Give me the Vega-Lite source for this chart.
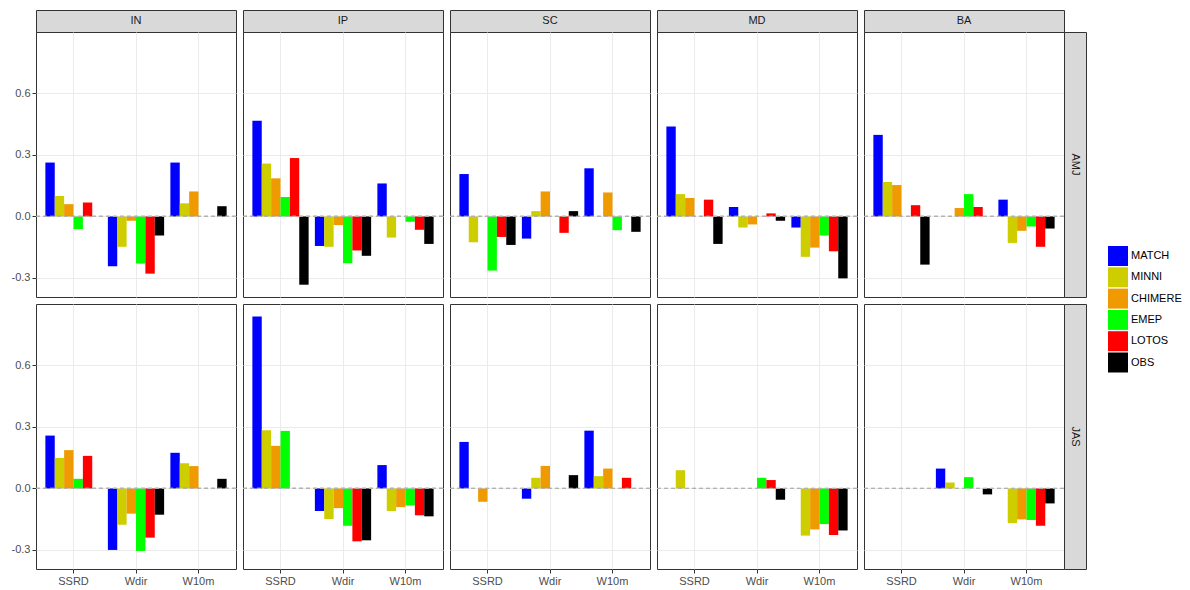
{
"$schema": "https://vega.github.io/schema/vega-lite/v6.json",
"padding": {"left": 10, "top": 9, "right": 0, "bottom": 0},
"bounds": "flush",
"align": "each",
"spacing": 0,
"columns": 10,
"datasets": {
"d": [
{"period":"AMJ","site":"IN","var":"SSRD","model":"MATCH","value":0.263},
{"period":"AMJ","site":"IN","var":"SSRD","model":"MINNI","value":0.10},
{"period":"AMJ","site":"IN","var":"SSRD","model":"CHIMERE","value":0.06},
{"period":"AMJ","site":"IN","var":"SSRD","model":"EMEP","value":-0.062},
{"period":"AMJ","site":"IN","var":"SSRD","model":"LOTOS","value":0.068},
{"period":"AMJ","site":"IN","var":"Wdir","model":"MATCH","value":-0.243},
{"period":"AMJ","site":"IN","var":"Wdir","model":"MINNI","value":-0.148},
{"period":"AMJ","site":"IN","var":"Wdir","model":"CHIMERE","value":-0.021},
{"period":"AMJ","site":"IN","var":"Wdir","model":"EMEP","value":-0.23},
{"period":"AMJ","site":"IN","var":"Wdir","model":"LOTOS","value":-0.279},
{"period":"AMJ","site":"IN","var":"Wdir","model":"OBS","value":-0.093},
{"period":"AMJ","site":"IN","var":"W10m","model":"MATCH","value":0.263},
{"period":"AMJ","site":"IN","var":"W10m","model":"MINNI","value":0.064},
{"period":"AMJ","site":"IN","var":"W10m","model":"CHIMERE","value":0.122},
{"period":"AMJ","site":"IN","var":"W10m","model":"OBS","value":0.05},
{"period":"AMJ","site":"IP","var":"SSRD","model":"MATCH","value":0.467},
{"period":"AMJ","site":"IP","var":"SSRD","model":"MINNI","value":0.258},
{"period":"AMJ","site":"IP","var":"SSRD","model":"CHIMERE","value":0.186},
{"period":"AMJ","site":"IP","var":"SSRD","model":"EMEP","value":0.095},
{"period":"AMJ","site":"IP","var":"SSRD","model":"LOTOS","value":0.285},
{"period":"AMJ","site":"IP","var":"SSRD","model":"OBS","value":-0.333},
{"period":"AMJ","site":"IP","var":"Wdir","model":"MATCH","value":-0.144},
{"period":"AMJ","site":"IP","var":"Wdir","model":"MINNI","value":-0.148},
{"period":"AMJ","site":"IP","var":"Wdir","model":"CHIMERE","value":-0.042},
{"period":"AMJ","site":"IP","var":"Wdir","model":"EMEP","value":-0.228},
{"period":"AMJ","site":"IP","var":"Wdir","model":"LOTOS","value":-0.166},
{"period":"AMJ","site":"IP","var":"Wdir","model":"OBS","value":-0.192},
{"period":"AMJ","site":"IP","var":"W10m","model":"MATCH","value":0.161},
{"period":"AMJ","site":"IP","var":"W10m","model":"MINNI","value":-0.103},
{"period":"AMJ","site":"IP","var":"W10m","model":"EMEP","value":-0.026},
{"period":"AMJ","site":"IP","var":"W10m","model":"LOTOS","value":-0.065},
{"period":"AMJ","site":"IP","var":"W10m","model":"OBS","value":-0.134},
{"period":"AMJ","site":"SC","var":"SSRD","model":"MATCH","value":0.207},
{"period":"AMJ","site":"SC","var":"SSRD","model":"MINNI","value":-0.126},
{"period":"AMJ","site":"SC","var":"SSRD","model":"EMEP","value":-0.264},
{"period":"AMJ","site":"SC","var":"SSRD","model":"LOTOS","value":-0.10},
{"period":"AMJ","site":"SC","var":"SSRD","model":"OBS","value":-0.139},
{"period":"AMJ","site":"SC","var":"Wdir","model":"MATCH","value":-0.108},
{"period":"AMJ","site":"SC","var":"Wdir","model":"MINNI","value":0.026},
{"period":"AMJ","site":"SC","var":"Wdir","model":"CHIMERE","value":0.122},
{"period":"AMJ","site":"SC","var":"Wdir","model":"LOTOS","value":-0.08},
{"period":"AMJ","site":"SC","var":"Wdir","model":"OBS","value":0.026},
{"period":"AMJ","site":"SC","var":"W10m","model":"MATCH","value":0.235},
{"period":"AMJ","site":"SC","var":"W10m","model":"CHIMERE","value":0.117},
{"period":"AMJ","site":"SC","var":"W10m","model":"EMEP","value":-0.067},
{"period":"AMJ","site":"SC","var":"W10m","model":"OBS","value":-0.075},
{"period":"AMJ","site":"MD","var":"SSRD","model":"MATCH","value":0.439},
{"period":"AMJ","site":"MD","var":"SSRD","model":"MINNI","value":0.109},
{"period":"AMJ","site":"MD","var":"SSRD","model":"CHIMERE","value":0.09},
{"period":"AMJ","site":"MD","var":"SSRD","model":"LOTOS","value":0.082},
{"period":"AMJ","site":"MD","var":"SSRD","model":"OBS","value":-0.134},
{"period":"AMJ","site":"MD","var":"Wdir","model":"MATCH","value":0.046},
{"period":"AMJ","site":"MD","var":"Wdir","model":"MINNI","value":-0.054},
{"period":"AMJ","site":"MD","var":"Wdir","model":"CHIMERE","value":-0.039},
{"period":"AMJ","site":"MD","var":"Wdir","model":"LOTOS","value":0.015},
{"period":"AMJ","site":"MD","var":"Wdir","model":"OBS","value":-0.021},
{"period":"AMJ","site":"MD","var":"W10m","model":"MATCH","value":-0.054},
{"period":"AMJ","site":"MD","var":"W10m","model":"MINNI","value":-0.197},
{"period":"AMJ","site":"MD","var":"W10m","model":"CHIMERE","value":-0.152},
{"period":"AMJ","site":"MD","var":"W10m","model":"EMEP","value":-0.093},
{"period":"AMJ","site":"MD","var":"W10m","model":"LOTOS","value":-0.17},
{"period":"AMJ","site":"MD","var":"W10m","model":"OBS","value":-0.302},
{"period":"AMJ","site":"BA","var":"SSRD","model":"MATCH","value":0.398},
{"period":"AMJ","site":"BA","var":"SSRD","model":"MINNI","value":0.168},
{"period":"AMJ","site":"BA","var":"SSRD","model":"CHIMERE","value":0.153},
{"period":"AMJ","site":"BA","var":"SSRD","model":"LOTOS","value":0.055},
{"period":"AMJ","site":"BA","var":"SSRD","model":"OBS","value":-0.235},
{"period":"AMJ","site":"BA","var":"Wdir","model":"CHIMERE","value":0.041},
{"period":"AMJ","site":"BA","var":"Wdir","model":"EMEP","value":0.109},
{"period":"AMJ","site":"BA","var":"Wdir","model":"LOTOS","value":0.046},
{"period":"AMJ","site":"BA","var":"W10m","model":"MATCH","value":0.082},
{"period":"AMJ","site":"BA","var":"W10m","model":"MINNI","value":-0.129},
{"period":"AMJ","site":"BA","var":"W10m","model":"CHIMERE","value":-0.07},
{"period":"AMJ","site":"BA","var":"W10m","model":"EMEP","value":-0.049},
{"period":"AMJ","site":"BA","var":"W10m","model":"LOTOS","value":-0.148},
{"period":"AMJ","site":"BA","var":"W10m","model":"OBS","value":-0.059},
{"period":"JAS","site":"IN","var":"SSRD","model":"MATCH","value":0.258},
{"period":"JAS","site":"IN","var":"SSRD","model":"MINNI","value":0.149},
{"period":"JAS","site":"IN","var":"SSRD","model":"CHIMERE","value":0.187},
{"period":"JAS","site":"IN","var":"SSRD","model":"EMEP","value":0.047},
{"period":"JAS","site":"IN","var":"SSRD","model":"LOTOS","value":0.159},
{"period":"JAS","site":"IN","var":"Wdir","model":"MATCH","value":-0.30},
{"period":"JAS","site":"IN","var":"Wdir","model":"MINNI","value":-0.177},
{"period":"JAS","site":"IN","var":"Wdir","model":"CHIMERE","value":-0.123},
{"period":"JAS","site":"IN","var":"Wdir","model":"EMEP","value":-0.305},
{"period":"JAS","site":"IN","var":"Wdir","model":"LOTOS","value":-0.24},
{"period":"JAS","site":"IN","var":"Wdir","model":"OBS","value":-0.128},
{"period":"JAS","site":"IN","var":"W10m","model":"MATCH","value":0.174},
{"period":"JAS","site":"IN","var":"W10m","model":"MINNI","value":0.123},
{"period":"JAS","site":"IN","var":"W10m","model":"CHIMERE","value":0.109},
{"period":"JAS","site":"IN","var":"W10m","model":"OBS","value":0.047},
{"period":"JAS","site":"IP","var":"SSRD","model":"MATCH","value":0.839},
{"period":"JAS","site":"IP","var":"SSRD","model":"MINNI","value":0.284},
{"period":"JAS","site":"IP","var":"SSRD","model":"CHIMERE","value":0.208},
{"period":"JAS","site":"IP","var":"SSRD","model":"EMEP","value":0.281},
{"period":"JAS","site":"IP","var":"Wdir","model":"MATCH","value":-0.11},
{"period":"JAS","site":"IP","var":"Wdir","model":"MINNI","value":-0.149},
{"period":"JAS","site":"IP","var":"Wdir","model":"CHIMERE","value":-0.096},
{"period":"JAS","site":"IP","var":"Wdir","model":"EMEP","value":-0.182},
{"period":"JAS","site":"IP","var":"Wdir","model":"LOTOS","value":-0.258},
{"period":"JAS","site":"IP","var":"Wdir","model":"OBS","value":-0.253},
{"period":"JAS","site":"IP","var":"W10m","model":"MATCH","value":0.114},
{"period":"JAS","site":"IP","var":"W10m","model":"MINNI","value":-0.11},
{"period":"JAS","site":"IP","var":"W10m","model":"CHIMERE","value":-0.091},
{"period":"JAS","site":"IP","var":"W10m","model":"EMEP","value":-0.083},
{"period":"JAS","site":"IP","var":"W10m","model":"LOTOS","value":-0.131},
{"period":"JAS","site":"IP","var":"W10m","model":"OBS","value":-0.136},
{"period":"JAS","site":"SC","var":"SSRD","model":"MATCH","value":0.227},
{"period":"JAS","site":"SC","var":"SSRD","model":"CHIMERE","value":-0.065},
{"period":"JAS","site":"SC","var":"Wdir","model":"MATCH","value":-0.05},
{"period":"JAS","site":"SC","var":"Wdir","model":"MINNI","value":0.052},
{"period":"JAS","site":"SC","var":"Wdir","model":"CHIMERE","value":0.11},
{"period":"JAS","site":"SC","var":"Wdir","model":"OBS","value":0.065},
{"period":"JAS","site":"SC","var":"W10m","model":"MATCH","value":0.282},
{"period":"JAS","site":"SC","var":"W10m","model":"MINNI","value":0.06},
{"period":"JAS","site":"SC","var":"W10m","model":"CHIMERE","value":0.097},
{"period":"JAS","site":"SC","var":"W10m","model":"LOTOS","value":0.052},
{"period":"JAS","site":"MD","var":"SSRD","model":"MINNI","value":0.089},
{"period":"JAS","site":"MD","var":"Wdir","model":"EMEP","value":0.052},
{"period":"JAS","site":"MD","var":"Wdir","model":"LOTOS","value":0.041},
{"period":"JAS","site":"MD","var":"Wdir","model":"OBS","value":-0.055},
{"period":"JAS","site":"MD","var":"W10m","model":"MINNI","value":-0.23},
{"period":"JAS","site":"MD","var":"W10m","model":"CHIMERE","value":-0.20},
{"period":"JAS","site":"MD","var":"W10m","model":"EMEP","value":-0.174},
{"period":"JAS","site":"MD","var":"W10m","model":"LOTOS","value":-0.227},
{"period":"JAS","site":"MD","var":"W10m","model":"OBS","value":-0.205},
{"period":"JAS","site":"BA","var":"Wdir","model":"MATCH","value":0.097},
{"period":"JAS","site":"BA","var":"Wdir","model":"MINNI","value":0.029},
{"period":"JAS","site":"BA","var":"Wdir","model":"EMEP","value":0.055},
{"period":"JAS","site":"BA","var":"Wdir","model":"OBS","value":-0.029},
{"period":"JAS","site":"BA","var":"W10m","model":"MINNI","value":-0.169},
{"period":"JAS","site":"BA","var":"W10m","model":"CHIMERE","value":-0.151},
{"period":"JAS","site":"BA","var":"W10m","model":"EMEP","value":-0.154},
{"period":"JAS","site":"BA","var":"W10m","model":"LOTOS","value":-0.182},
{"period":"JAS","site":"BA","var":"W10m","model":"OBS","value":-0.073}
]
},
"concat": [
{"width": 200, "height": 22, "data": {"values": [{"label": "IN"}]}, "mark": {"type": "text", "fontSize": 11, "color": "#1a1a1a"}, "encoding": {"text": {"field": "label"}}, "view": {"fill": "#d9d9d9", "stroke": "#333333"}},
{"width": 7, "height": 1, "data": {"values": []}, "mark": {"type": "text"}, "encoding": {}, "view": {"stroke": null}},
{"width": 200, "height": 22, "data": {"values": [{"label": "IP"}]}, "mark": {"type": "text", "fontSize": 11, "color": "#1a1a1a"}, "encoding": {"text": {"field": "label"}}, "view": {"fill": "#d9d9d9", "stroke": "#333333"}},
{"width": 7, "height": 1, "data": {"values": []}, "mark": {"type": "text"}, "encoding": {}, "view": {"stroke": null}},
{"width": 200, "height": 22, "data": {"values": [{"label": "SC"}]}, "mark": {"type": "text", "fontSize": 11, "color": "#1a1a1a"}, "encoding": {"text": {"field": "label"}}, "view": {"fill": "#d9d9d9", "stroke": "#333333"}},
{"width": 7, "height": 1, "data": {"values": []}, "mark": {"type": "text"}, "encoding": {}, "view": {"stroke": null}},
{"width": 200, "height": 22, "data": {"values": [{"label": "MD"}]}, "mark": {"type": "text", "fontSize": 11, "color": "#1a1a1a"}, "encoding": {"text": {"field": "label"}}, "view": {"fill": "#d9d9d9", "stroke": "#333333"}},
{"width": 7, "height": 1, "data": {"values": []}, "mark": {"type": "text"}, "encoding": {}, "view": {"stroke": null}},
{"width": 200, "height": 22, "data": {"values": [{"label": "BA"}]}, "mark": {"type": "text", "fontSize": 11, "color": "#1a1a1a"}, "encoding": {"text": {"field": "label"}}, "view": {"fill": "#d9d9d9", "stroke": "#333333"}},
{"width": 22, "height": 1, "data": {"values": []}, "mark": {"type": "text"}, "encoding": {}, "view": {"stroke": null}},

{"width": 200, "height": 265, "data": {"name": "d"}, "transform": [{"filter": "datum.site==='IN' && datum.period==='AMJ'"}],
 "layer": [
  {"mark": {"type": "bar"}, "encoding": {
    "x": {"field": "var", "type": "nominal", "title": null, "scale": {"domain": ["SSRD","Wdir","W10m"], "paddingInner": 0.1, "paddingOuter": 0.15}, "axis": {"grid": true, "bandPosition": 0.5, "labels": false, "ticks": false, "domain": false}},
    "xOffset": {"field": "model", "type": "nominal", "scale": {"domain": ["MATCH","MINNI","CHIMERE","EMEP","LOTOS","OBS"], "paddingInner": 0, "paddingOuter": 0}},
    "y": {"field": "value", "type": "quantitative", "title": null, "scale": {"domain": [-0.393, 0.9], "nice": false, "zero": false}, "axis": {"values": [-0.3,-0.15,0,0.15,0.3,0.45,0.6,0.75], "grid": true, "labelExpr": "abs(datum.value*10/3-round(datum.value*10/3))<0.01 ? (datum.value<0?'-':'')+format(abs(datum.value),'.1f') : ''", "gridColor": {"condition": {"test": "abs(datum.value*10/3-round(datum.value*10/3))<0.01", "value": "#ebebeb"}, "value": "#f4f4f4"}, "tickOpacity": {"condition": {"test": "abs(datum.value*10/3-round(datum.value*10/3))<0.01", "value": 1}, "value": 0}}},
    "color": {"field": "model", "type": "nominal", "scale": {"domain": ["MATCH","MINNI","CHIMERE","EMEP","LOTOS","OBS"], "range": ["#0000ff","#cdcd00","#ee9a00","#00ff00","#ff0000","#000000"]}, "legend": {"title": null, "orient": "none", "legendX": 1072, "legendY": 236, "symbolType": "square", "symbolSize": 400, "symbolStrokeWidth": 0, "symbolOpacity": 1, "labelFontSize": 11, "labelColor": "#000000", "rowPadding": 1.3, "labelOffset": 3}}
  }},
  {"mark": {"type": "rule", "strokeDash": [4, 3], "color": "#b3b3b3", "strokeWidth": 0.8}, "encoding": {"y": {"datum": 0}}}
 ]},
{"width": 7, "height": 1, "data": {"values": []}, "mark": {"type": "text"}, "encoding": {}, "view": {"stroke": null}},
{"width": 200, "height": 265, "data": {"name": "d"}, "transform": [{"filter": "datum.site==='IP' && datum.period==='AMJ'"}],
 "layer": [
  {"mark": {"type": "bar"}, "encoding": {
    "x": {"field": "var", "type": "nominal", "title": null, "scale": {"domain": ["SSRD","Wdir","W10m"], "paddingInner": 0.1, "paddingOuter": 0.15}, "axis": {"grid": true, "bandPosition": 0.5, "labels": false, "ticks": false, "domain": false}},
    "xOffset": {"field": "model", "type": "nominal", "scale": {"domain": ["MATCH","MINNI","CHIMERE","EMEP","LOTOS","OBS"], "paddingInner": 0, "paddingOuter": 0}},
    "y": {"field": "value", "type": "quantitative", "title": null, "scale": {"domain": [-0.393, 0.9], "nice": false, "zero": false}, "axis": {"values": [-0.3,-0.15,0,0.15,0.3,0.45,0.6,0.75], "grid": true, "labels": false, "ticks": false, "gridColor": {"condition": {"test": "abs(datum.value*10/3-round(datum.value*10/3))<0.01", "value": "#ebebeb"}, "value": "#f4f4f4"}}},
    "color": {"field": "model", "type": "nominal", "scale": {"domain": ["MATCH","MINNI","CHIMERE","EMEP","LOTOS","OBS"], "range": ["#0000ff","#cdcd00","#ee9a00","#00ff00","#ff0000","#000000"]}}
  }},
  {"mark": {"type": "rule", "strokeDash": [4, 3], "color": "#b3b3b3", "strokeWidth": 0.8}, "encoding": {"y": {"datum": 0}}}
 ]},
{"width": 7, "height": 1, "data": {"values": []}, "mark": {"type": "text"}, "encoding": {}, "view": {"stroke": null}},
{"width": 200, "height": 265, "data": {"name": "d"}, "transform": [{"filter": "datum.site==='SC' && datum.period==='AMJ'"}],
 "layer": [
  {"mark": {"type": "bar"}, "encoding": {
    "x": {"field": "var", "type": "nominal", "title": null, "scale": {"domain": ["SSRD","Wdir","W10m"], "paddingInner": 0.1, "paddingOuter": 0.15}, "axis": {"grid": true, "bandPosition": 0.5, "labels": false, "ticks": false, "domain": false}},
    "xOffset": {"field": "model", "type": "nominal", "scale": {"domain": ["MATCH","MINNI","CHIMERE","EMEP","LOTOS","OBS"], "paddingInner": 0, "paddingOuter": 0}},
    "y": {"field": "value", "type": "quantitative", "title": null, "scale": {"domain": [-0.393, 0.9], "nice": false, "zero": false}, "axis": {"values": [-0.3,-0.15,0,0.15,0.3,0.45,0.6,0.75], "grid": true, "labels": false, "ticks": false, "gridColor": {"condition": {"test": "abs(datum.value*10/3-round(datum.value*10/3))<0.01", "value": "#ebebeb"}, "value": "#f4f4f4"}}},
    "color": {"field": "model", "type": "nominal", "scale": {"domain": ["MATCH","MINNI","CHIMERE","EMEP","LOTOS","OBS"], "range": ["#0000ff","#cdcd00","#ee9a00","#00ff00","#ff0000","#000000"]}}
  }},
  {"mark": {"type": "rule", "strokeDash": [4, 3], "color": "#b3b3b3", "strokeWidth": 0.8}, "encoding": {"y": {"datum": 0}}}
 ]},
{"width": 7, "height": 1, "data": {"values": []}, "mark": {"type": "text"}, "encoding": {}, "view": {"stroke": null}},
{"width": 200, "height": 265, "data": {"name": "d"}, "transform": [{"filter": "datum.site==='MD' && datum.period==='AMJ'"}],
 "layer": [
  {"mark": {"type": "bar"}, "encoding": {
    "x": {"field": "var", "type": "nominal", "title": null, "scale": {"domain": ["SSRD","Wdir","W10m"], "paddingInner": 0.1, "paddingOuter": 0.15}, "axis": {"grid": true, "bandPosition": 0.5, "labels": false, "ticks": false, "domain": false}},
    "xOffset": {"field": "model", "type": "nominal", "scale": {"domain": ["MATCH","MINNI","CHIMERE","EMEP","LOTOS","OBS"], "paddingInner": 0, "paddingOuter": 0}},
    "y": {"field": "value", "type": "quantitative", "title": null, "scale": {"domain": [-0.393, 0.9], "nice": false, "zero": false}, "axis": {"values": [-0.3,-0.15,0,0.15,0.3,0.45,0.6,0.75], "grid": true, "labels": false, "ticks": false, "gridColor": {"condition": {"test": "abs(datum.value*10/3-round(datum.value*10/3))<0.01", "value": "#ebebeb"}, "value": "#f4f4f4"}}},
    "color": {"field": "model", "type": "nominal", "scale": {"domain": ["MATCH","MINNI","CHIMERE","EMEP","LOTOS","OBS"], "range": ["#0000ff","#cdcd00","#ee9a00","#00ff00","#ff0000","#000000"]}}
  }},
  {"mark": {"type": "rule", "strokeDash": [4, 3], "color": "#b3b3b3", "strokeWidth": 0.8}, "encoding": {"y": {"datum": 0}}}
 ]},
{"width": 7, "height": 1, "data": {"values": []}, "mark": {"type": "text"}, "encoding": {}, "view": {"stroke": null}},
{"width": 200, "height": 265, "data": {"name": "d"}, "transform": [{"filter": "datum.site==='BA' && datum.period==='AMJ'"}],
 "layer": [
  {"mark": {"type": "bar"}, "encoding": {
    "x": {"field": "var", "type": "nominal", "title": null, "scale": {"domain": ["SSRD","Wdir","W10m"], "paddingInner": 0.1, "paddingOuter": 0.15}, "axis": {"grid": true, "bandPosition": 0.5, "labels": false, "ticks": false, "domain": false}},
    "xOffset": {"field": "model", "type": "nominal", "scale": {"domain": ["MATCH","MINNI","CHIMERE","EMEP","LOTOS","OBS"], "paddingInner": 0, "paddingOuter": 0}},
    "y": {"field": "value", "type": "quantitative", "title": null, "scale": {"domain": [-0.393, 0.9], "nice": false, "zero": false}, "axis": {"values": [-0.3,-0.15,0,0.15,0.3,0.45,0.6,0.75], "grid": true, "labels": false, "ticks": false, "gridColor": {"condition": {"test": "abs(datum.value*10/3-round(datum.value*10/3))<0.01", "value": "#ebebeb"}, "value": "#f4f4f4"}}},
    "color": {"field": "model", "type": "nominal", "scale": {"domain": ["MATCH","MINNI","CHIMERE","EMEP","LOTOS","OBS"], "range": ["#0000ff","#cdcd00","#ee9a00","#00ff00","#ff0000","#000000"]}}
  }},
  {"mark": {"type": "rule", "strokeDash": [4, 3], "color": "#b3b3b3", "strokeWidth": 0.8}, "encoding": {"y": {"datum": 0}}}
 ]},
{"width": 22, "height": 265, "data": {"values": [{"label": "AMJ"}]}, "mark": {"type": "text", "fontSize": 11, "color": "#1a1a1a", "angle": 90}, "encoding": {"text": {"field": "label"}}, "view": {"fill": "#d9d9d9", "stroke": "#333333"}},

{"width": 200, "height": 7, "data": {"values": []}, "mark": {"type": "text"}, "encoding": {}, "view": {"stroke": null}},
{"width": 7, "height": 7, "data": {"values": []}, "mark": {"type": "text"}, "encoding": {}, "view": {"stroke": null}},
{"width": 200, "height": 7, "data": {"values": []}, "mark": {"type": "text"}, "encoding": {}, "view": {"stroke": null}},
{"width": 7, "height": 7, "data": {"values": []}, "mark": {"type": "text"}, "encoding": {}, "view": {"stroke": null}},
{"width": 200, "height": 7, "data": {"values": []}, "mark": {"type": "text"}, "encoding": {}, "view": {"stroke": null}},
{"width": 7, "height": 7, "data": {"values": []}, "mark": {"type": "text"}, "encoding": {}, "view": {"stroke": null}},
{"width": 200, "height": 7, "data": {"values": []}, "mark": {"type": "text"}, "encoding": {}, "view": {"stroke": null}},
{"width": 7, "height": 7, "data": {"values": []}, "mark": {"type": "text"}, "encoding": {}, "view": {"stroke": null}},
{"width": 200, "height": 7, "data": {"values": []}, "mark": {"type": "text"}, "encoding": {}, "view": {"stroke": null}},
{"width": 22, "height": 7, "data": {"values": []}, "mark": {"type": "text"}, "encoding": {}, "view": {"stroke": null}},

{"width": 200, "height": 265, "data": {"name": "d"}, "transform": [{"filter": "datum.site==='IN' && datum.period==='JAS'"}],
 "layer": [
  {"mark": {"type": "bar"}, "encoding": {
    "x": {"field": "var", "type": "nominal", "title": null, "scale": {"domain": ["SSRD","Wdir","W10m"], "paddingInner": 0.1, "paddingOuter": 0.15}, "axis": {"grid": true, "bandPosition": 0.5, "labelAngle": 0}},
    "xOffset": {"field": "model", "type": "nominal", "scale": {"domain": ["MATCH","MINNI","CHIMERE","EMEP","LOTOS","OBS"], "paddingInner": 0, "paddingOuter": 0}},
    "y": {"field": "value", "type": "quantitative", "title": null, "scale": {"domain": [-0.393, 0.9], "nice": false, "zero": false}, "axis": {"values": [-0.3,-0.15,0,0.15,0.3,0.45,0.6,0.75], "grid": true, "labelExpr": "abs(datum.value*10/3-round(datum.value*10/3))<0.01 ? (datum.value<0?'-':'')+format(abs(datum.value),'.1f') : ''", "gridColor": {"condition": {"test": "abs(datum.value*10/3-round(datum.value*10/3))<0.01", "value": "#ebebeb"}, "value": "#f4f4f4"}, "tickOpacity": {"condition": {"test": "abs(datum.value*10/3-round(datum.value*10/3))<0.01", "value": 1}, "value": 0}}},
    "color": {"field": "model", "type": "nominal", "scale": {"domain": ["MATCH","MINNI","CHIMERE","EMEP","LOTOS","OBS"], "range": ["#0000ff","#cdcd00","#ee9a00","#00ff00","#ff0000","#000000"]}}
  }},
  {"mark": {"type": "rule", "strokeDash": [4, 3], "color": "#b3b3b3", "strokeWidth": 0.8}, "encoding": {"y": {"datum": 0}}}
 ]},
{"width": 7, "height": 1, "data": {"values": []}, "mark": {"type": "text"}, "encoding": {}, "view": {"stroke": null}},
{"width": 200, "height": 265, "data": {"name": "d"}, "transform": [{"filter": "datum.site==='IP' && datum.period==='JAS'"}],
 "layer": [
  {"mark": {"type": "bar"}, "encoding": {
    "x": {"field": "var", "type": "nominal", "title": null, "scale": {"domain": ["SSRD","Wdir","W10m"], "paddingInner": 0.1, "paddingOuter": 0.15}, "axis": {"grid": true, "bandPosition": 0.5, "labelAngle": 0}},
    "xOffset": {"field": "model", "type": "nominal", "scale": {"domain": ["MATCH","MINNI","CHIMERE","EMEP","LOTOS","OBS"], "paddingInner": 0, "paddingOuter": 0}},
    "y": {"field": "value", "type": "quantitative", "title": null, "scale": {"domain": [-0.393, 0.9], "nice": false, "zero": false}, "axis": {"values": [-0.3,-0.15,0,0.15,0.3,0.45,0.6,0.75], "grid": true, "labels": false, "ticks": false, "gridColor": {"condition": {"test": "abs(datum.value*10/3-round(datum.value*10/3))<0.01", "value": "#ebebeb"}, "value": "#f4f4f4"}}},
    "color": {"field": "model", "type": "nominal", "scale": {"domain": ["MATCH","MINNI","CHIMERE","EMEP","LOTOS","OBS"], "range": ["#0000ff","#cdcd00","#ee9a00","#00ff00","#ff0000","#000000"]}}
  }},
  {"mark": {"type": "rule", "strokeDash": [4, 3], "color": "#b3b3b3", "strokeWidth": 0.8}, "encoding": {"y": {"datum": 0}}}
 ]},
{"width": 7, "height": 1, "data": {"values": []}, "mark": {"type": "text"}, "encoding": {}, "view": {"stroke": null}},
{"width": 200, "height": 265, "data": {"name": "d"}, "transform": [{"filter": "datum.site==='SC' && datum.period==='JAS'"}],
 "layer": [
  {"mark": {"type": "bar"}, "encoding": {
    "x": {"field": "var", "type": "nominal", "title": null, "scale": {"domain": ["SSRD","Wdir","W10m"], "paddingInner": 0.1, "paddingOuter": 0.15}, "axis": {"grid": true, "bandPosition": 0.5, "labelAngle": 0}},
    "xOffset": {"field": "model", "type": "nominal", "scale": {"domain": ["MATCH","MINNI","CHIMERE","EMEP","LOTOS","OBS"], "paddingInner": 0, "paddingOuter": 0}},
    "y": {"field": "value", "type": "quantitative", "title": null, "scale": {"domain": [-0.393, 0.9], "nice": false, "zero": false}, "axis": {"values": [-0.3,-0.15,0,0.15,0.3,0.45,0.6,0.75], "grid": true, "labels": false, "ticks": false, "gridColor": {"condition": {"test": "abs(datum.value*10/3-round(datum.value*10/3))<0.01", "value": "#ebebeb"}, "value": "#f4f4f4"}}},
    "color": {"field": "model", "type": "nominal", "scale": {"domain": ["MATCH","MINNI","CHIMERE","EMEP","LOTOS","OBS"], "range": ["#0000ff","#cdcd00","#ee9a00","#00ff00","#ff0000","#000000"]}}
  }},
  {"mark": {"type": "rule", "strokeDash": [4, 3], "color": "#b3b3b3", "strokeWidth": 0.8}, "encoding": {"y": {"datum": 0}}}
 ]},
{"width": 7, "height": 1, "data": {"values": []}, "mark": {"type": "text"}, "encoding": {}, "view": {"stroke": null}},
{"width": 200, "height": 265, "data": {"name": "d"}, "transform": [{"filter": "datum.site==='MD' && datum.period==='JAS'"}],
 "layer": [
  {"mark": {"type": "bar"}, "encoding": {
    "x": {"field": "var", "type": "nominal", "title": null, "scale": {"domain": ["SSRD","Wdir","W10m"], "paddingInner": 0.1, "paddingOuter": 0.15}, "axis": {"grid": true, "bandPosition": 0.5, "labelAngle": 0}},
    "xOffset": {"field": "model", "type": "nominal", "scale": {"domain": ["MATCH","MINNI","CHIMERE","EMEP","LOTOS","OBS"], "paddingInner": 0, "paddingOuter": 0}},
    "y": {"field": "value", "type": "quantitative", "title": null, "scale": {"domain": [-0.393, 0.9], "nice": false, "zero": false}, "axis": {"values": [-0.3,-0.15,0,0.15,0.3,0.45,0.6,0.75], "grid": true, "labels": false, "ticks": false, "gridColor": {"condition": {"test": "abs(datum.value*10/3-round(datum.value*10/3))<0.01", "value": "#ebebeb"}, "value": "#f4f4f4"}}},
    "color": {"field": "model", "type": "nominal", "scale": {"domain": ["MATCH","MINNI","CHIMERE","EMEP","LOTOS","OBS"], "range": ["#0000ff","#cdcd00","#ee9a00","#00ff00","#ff0000","#000000"]}}
  }},
  {"mark": {"type": "rule", "strokeDash": [4, 3], "color": "#b3b3b3", "strokeWidth": 0.8}, "encoding": {"y": {"datum": 0}}}
 ]},
{"width": 7, "height": 1, "data": {"values": []}, "mark": {"type": "text"}, "encoding": {}, "view": {"stroke": null}},
{"width": 200, "height": 265, "data": {"name": "d"}, "transform": [{"filter": "datum.site==='BA' && datum.period==='JAS'"}],
 "layer": [
  {"mark": {"type": "bar"}, "encoding": {
    "x": {"field": "var", "type": "nominal", "title": null, "scale": {"domain": ["SSRD","Wdir","W10m"], "paddingInner": 0.1, "paddingOuter": 0.15}, "axis": {"grid": true, "bandPosition": 0.5, "labelAngle": 0}},
    "xOffset": {"field": "model", "type": "nominal", "scale": {"domain": ["MATCH","MINNI","CHIMERE","EMEP","LOTOS","OBS"], "paddingInner": 0, "paddingOuter": 0}},
    "y": {"field": "value", "type": "quantitative", "title": null, "scale": {"domain": [-0.393, 0.9], "nice": false, "zero": false}, "axis": {"values": [-0.3,-0.15,0,0.15,0.3,0.45,0.6,0.75], "grid": true, "labels": false, "ticks": false, "gridColor": {"condition": {"test": "abs(datum.value*10/3-round(datum.value*10/3))<0.01", "value": "#ebebeb"}, "value": "#f4f4f4"}}},
    "color": {"field": "model", "type": "nominal", "scale": {"domain": ["MATCH","MINNI","CHIMERE","EMEP","LOTOS","OBS"], "range": ["#0000ff","#cdcd00","#ee9a00","#00ff00","#ff0000","#000000"]}}
  }},
  {"mark": {"type": "rule", "strokeDash": [4, 3], "color": "#b3b3b3", "strokeWidth": 0.8}, "encoding": {"y": {"datum": 0}}}
 ]},
{"width": 22, "height": 265, "data": {"values": [{"label": "JAS"}]}, "mark": {"type": "text", "fontSize": 11, "color": "#1a1a1a", "angle": 90}, "encoding": {"text": {"field": "label"}}, "view": {"fill": "#d9d9d9", "stroke": "#333333"}}
],
"config": {
  "font": "Liberation Sans",
  "view": {"stroke": "#333333", "strokeWidth": 1},
  "axis": {"domain": false, "tickColor": "#333333", "tickSize": 4, "labelColor": "#4d4d4d", "labelFontSize": 11, "labelPadding": 2, "gridColor": "#ebebeb", "gridWidth": 1},
  "legend": {"labelFont": "Liberation Sans"}
}
}
